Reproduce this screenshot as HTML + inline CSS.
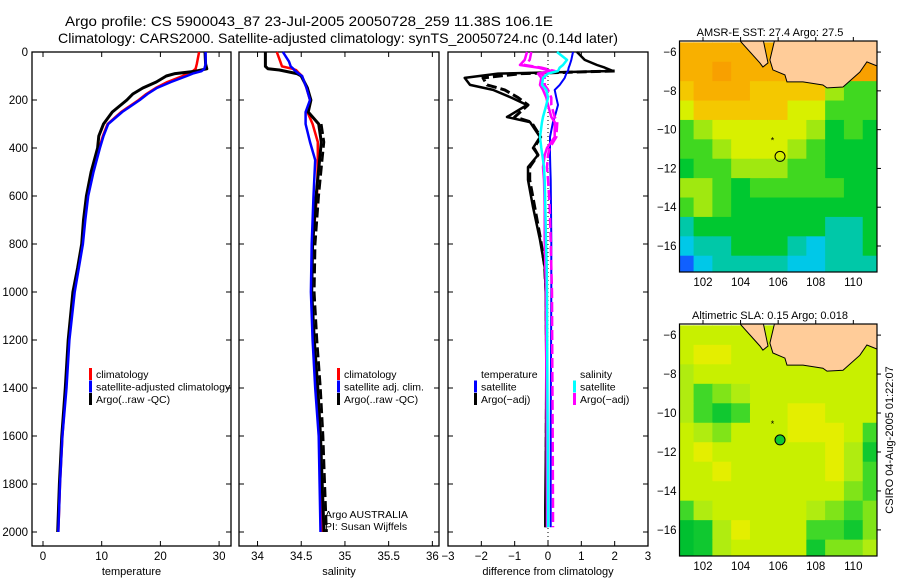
<!DOCTYPE html>
<html><head><meta charset="utf-8"><style>
html,body{margin:0;padding:0;background:#fff;}
svg{display:block;font-family:"Liberation Sans",sans-serif;}
text{fill:#000;}
</style></head><body>
<svg id="fig" width="900" height="580" viewBox="0 0 900 580">
<text x="65" y="26" font-size="14" textLength="488" lengthAdjust="spacingAndGlyphs">Argo profile: CS 5900043_87 23-Jul-2005 20050728_259 11.38S 106.1E</text>
<text x="58" y="43" font-size="14" textLength="560" lengthAdjust="spacingAndGlyphs">Climatology: CARS2000. Satellite-adjusted climatology: synTS_20050724.nc (0.14d later)</text>
<text x="770" y="36" font-size="11" text-anchor="middle">AMSR-E SST: 27.4 Argo: 27.5</text>
<text x="770" y="319" font-size="11" text-anchor="middle">Altimetric SLA: 0.15 Argo: 0.018</text>
<text transform="translate(893,440) rotate(-90)" font-size="11" text-anchor="middle">CSIRO 04-Aug-2005 01:22:07</text>
</svg>
<script>
// ---- profile data ----
const depthT = [0,50,70,80,90,100,125,150,175,200,250,300,350,400,500,600,700,800,900,1000,1200,1400,1600,1800,2000];
const tempClim = [26.6,26.2,26.0,25.5,24.5,23.8,21.2,19.2,17.6,16.3,13.3,11.0,10.2,9.6,8.5,7.6,7.1,6.7,6.0,5.3,4.4,3.9,3.3,2.9,2.6];
const tempSat  = [27.7,27.7,27.5,27.0,25.5,24.5,21.8,19.4,17.8,16.5,13.5,11.1,10.3,9.7,8.6,7.7,7.2,6.8,6.1,5.4,4.5,4.0,3.3,2.9,2.6];
const tempArgo = [27.6,27.7,27.9,26.0,22.5,21.0,19.3,17.0,15.3,14.3,11.8,10.3,9.5,9.3,8.2,7.4,6.9,6.6,5.9,5.1,4.3,3.8,3.2,2.8,2.5];

const depthS = [0,40,60,70,75,90,100,150,200,250,300,375,450,600,800,1000,1200,1400,1600,1800,2000];
const salClim = [34.22,34.26,34.28,34.40,34.44,34.48,34.51,34.56,34.60,34.57,34.63,34.69,34.69,34.68,34.63,34.62,34.64,34.67,34.71,34.72,34.73];
const salSat  = [34.29,34.36,34.38,34.41,34.42,34.47,34.51,34.56,34.60,34.55,34.55,34.60,34.66,34.64,34.62,34.61,34.63,34.66,34.70,34.71,34.72];
const salArgo = [34.09,34.09,34.09,34.12,34.25,34.45,34.50,34.57,34.61,34.58,34.70,34.73,34.71,34.67,34.63,34.62,34.65,34.69,34.72,34.74,34.76];

const depthD = [0,33,54,65,79,90,108,137,158,190,221,271,292,354,400,429,479,533,646,783,896,1000,1300,1600,1900,1980];
const dTempArgo = [0.87,1.1,1.47,1.7,1.95,-1.5,-2.5,-2.34,-1.65,-1.1,-0.63,-1.23,-0.54,-0.24,-0.45,-0.3,-0.6,-0.6,-0.45,-0.24,-0.1,-0.07,-0.05,-0.06,-0.08,-0.08];
const dTempAdj  = [null,null,null,null,2.0,-0.8,-1.95,-1.83,-1.3,-0.9,-0.6,-1.0,-0.5,-0.22,-0.42,-0.3,-0.55,-0.55,-0.4,-0.22,-0.1,-0.06,-0.04,-0.05,-0.06,-0.06];
const dTempSat  = [0.75,0.7,0.65,0.62,0.6,0.55,0.5,0.35,0.2,0.25,0.3,0.2,0.15,0.06,0.06,0.06,0.07,0.08,0.09,0.1,0.1,0.1,0.09,0.08,0.08,0.08];
const dSalSat   = [0.27,0.57,0.45,0.35,0.3,0.0,-0.15,-0.18,-0.05,0.0,-0.05,-0.15,-0.18,-0.24,-0.2,-0.17,-0.12,-0.1,-0.08,-0.06,-0.04,-0.03,-0.02,-0.01,0.0,0.0];
const dSalArgo  = [-0.63,-0.7,-0.84,-0.3,0.1,-0.3,-0.2,-0.24,-0.15,-0.05,0.0,0.1,0.2,0.2,-0.03,-0.1,-0.15,-0.12,-0.1,-0.1,-0.08,-0.06,-0.05,-0.04,-0.03,-0.03];
const dSalAdj   = [-0.5,-0.55,-0.7,-0.2,0.2,-0.2,-0.1,-0.1,0.0,0.1,0.1,0.2,0.28,0.25,0.05,0.0,-0.03,0.0,0.05,0.08,0.1,0.12,0.13,0.14,0.15,0.15];

const depthTicks = [0,200,400,600,800,1000,1200,1400,1600,1800,2000];
const tempTicks = [0,10,20,30];
const salTicks = [34,34.5,35,35.5,36];
const diffTicks = [-3,-2,-1,0,1,2,3];

// ---- map data (rows lat -6..-17, cols lon 101..111) ----
const mapLons = [101,102,103,104,105,106,107,108,109,110,111];
const mapLats = [-6,-7,-8,-9,-10,-11,-12,-13,-14,-15,-16,-17];
const sstGrid = [
[8,8,8,8,8,8,8,9,9,9,9],
[8,8,9,8,8,8,8,8,9,9,9],
[7,8,8,8,7,7,7,7,5,4,4],
[6,7,7,7,7,7,6,6,4,4,4],
[4,5,6,6,6,6,6,5,3,4,3],
[4,4,5,6,6,6,5,4,3,3,3],
[3,4,4,5,5,5,4,4,3,3,3],
[5,5,4,3,4,4,4,4,4,3,3],
[4,5,4,3,3,3,3,3,3,3,3],
[2,3,3,3,3,3,3,3,2,2,3],
[1,2,2,3,3,3,2,1,2,2,3],
[0,1,2,2,2,2,1,1,2,2,2]];
const slaGrid = [
[7,7,7,7,7,7,7,7,7,7,7],
[7,8,8,7,7,7,7,7,7,7,7],
[6,7,7,7,7,7,7,7,7,7,7],
[6,4,5,6,7,7,7,7,7,7,7],
[6,4,3,4,7,7,8,8,7,7,7],
[7,6,5,7,7,7,8,8,8,7,4],
[7,8,7,7,7,7,7,7,8,6,3],
[7,7,8,7,7,7,7,7,8,6,4],
[7,7,7,7,7,7,7,7,7,5,4],
[4,6,7,7,7,7,7,6,5,4,5],
[2,3,6,8,7,7,7,4,4,3,5],
[2,3,6,7,7,7,7,3,5,5,6]];
const mapLonTicks = [102,104,106,108,110];
const mapLatTicks = [-6,-8,-10,-12,-14,-16];
const javaLon = [105.83,105.56,105.72,106.36,106.47,107.32,108.38,108.60,109.45,110.35,110.72,111.4,111.4];
const javaLat = [-5.3,-6.41,-6.92,-7.18,-7.54,-7.54,-7.70,-7.85,-7.80,-7.03,-6.51,-6.77,-5.3];
const sumLon = [103.86,105.03,105.19,105.46,105.19];
const sumLat = [-5.3,-6.56,-6.77,-6.56,-5.3];
const floatLon = 106.1, floatLat = -11.38;

const sstPal = ['#1060ff','#00c8e8','#00c8a8','#00c830','#40d820','#a0e810','#d8f000','#f4c800','#f8b000','#f8a000','#f09000'];
const slaPal = ['#00b830','#00bc30','#00c030','#10c830','#40d828','#80e418','#b0ec10','#c8f000','#e4ee00','#f0d800','#f0c000'];

const NS='http://www.w3.org/2000/svg';
const svg=document.getElementById('fig');
function mk(tag,attrs,parent){const e=document.createElementNS(NS,tag);for(const k in attrs)e.setAttribute(k,attrs[k]);(parent||svg).appendChild(e);return e;}

const PT=52, PB=546, dScale=0.24;
const yD=d=>PT+d*dScale;
function lin(d0,d1,p0,p1){return v=>p0+(v-d0)*(p1-p0)/(d1-d0);}

const panels=[
 {name:'temperature',x0:32,x1:231,dom:[-1.874,32.03],ticks:tempTicks,label:'temperature',ylab:true},
 {name:'salinity',x0:239,x1:439,dom:[33.788,36.076],ticks:salTicks,label:'salinity',ylab:false},
 {name:'difference',x0:448,x1:648,dom:[-3,3],ticks:diffTicks,label:'difference from climatology',ylab:false}
];
panels.forEach(p=>{p.xs=lin(p.dom[0],p.dom[1],p.x0,p.x1);});

function line(p,depths,vals,color,w,dash,name){
  const pts=[];
  for(let i=0;i<depths.length;i++){if(vals[i]===null)continue;pts.push(p.xs(vals[i]).toFixed(1)+','+yD(depths[i]).toFixed(1));}
  const e=mk('polyline',{points:pts.join(' '),fill:'none',stroke:color,'stroke-width':w,'stroke-linejoin':'round'});
  if(dash)e.setAttribute('stroke-dasharray',dash);
  
  
  return e;
}

panels.forEach((p,pi)=>{
  const g=mk('g',{});
  
  
  const r=mk('rect',{x:p.x0,y:PT,width:p.x1-p.x0,height:PB-PT,fill:'none',stroke:'#000','stroke-width':1.3},g);
  
  
  depthTicks.forEach(d=>{
    const y=yD(d);
    const t1=mk('line',{x1:p.x0,x2:p.x0+5,y1:y,y2:y,stroke:'#000'},g);
    
    
    const t2=mk('line',{x1:p.x1-5,x2:p.x1,y1:y,y2:y,stroke:'#000'},g);
    
    
    if(p.ylab){
      const tx=mk('text',{x:p.x0-4,y:y+4,'font-size':11.5,'text-anchor':'end'},g);
      tx.textContent=d;
      
      
    }
  });
  p.ticks.forEach(v=>{
    const x=p.xs(v);
    const a=mk('line',{x1:x,x2:x,y1:PB,y2:PB-5,stroke:'#000'},g);
    
    
    const b=mk('line',{x1:x,x2:x,y1:PT,y2:PT+5,stroke:'#000'},g);
    
    
    const tx=mk('text',{x:x,y:PB+14,'font-size':11.5,'text-anchor':'middle'},g);
    tx.textContent=(v<0?'\u2212'+(-v):v);
    
    
  });
  const xl=mk('text',{x:(p.x0+p.x1)/2,y:PB+29,'font-size':11,'text-anchor':'middle'},g);
  xl.textContent=p.label;
  
  
});

const [P1,P2,P3]=panels;
line(P1,depthT,tempClim,'#ff0000',2.5,null,'temperature-climatology-line');
line(P1,depthT,tempArgo,'#000',3,null,'temperature-argo-line');
line(P1,depthT,tempSat,'#0000ff',2.5,null,'temperature-satellite-line');

line(P2,depthS,salClim,'#ff0000',2.5,null,'salinity-climatology-line');
line(P2,depthS,salArgo,'#000',3,null,'salinity-argo-line');
line(P2,depthS.slice(10),salArgo.slice(10).map(v=>v+0.03),'#000',2.5,'10,4','salinity-argo-qc-line');
line(P2,depthS,salSat,'#0000ff',2.5,null,'salinity-satellite-line');

const z=mk('line',{x1:P3.xs(0),x2:P3.xs(0),y1:PT,y2:PB,stroke:'#000','stroke-dasharray':'1,3'});


line(P3,depthD,dTempArgo,'#000',2.5,null,'temp-diff-argo-line');
line(P3,depthD,dTempAdj,'#000',3,'10,4','temp-diff-argo-adj-line');
line(P3,depthD,dTempSat,'#0000ff',2,null,'temp-diff-satellite-line');
line(P3,depthD,dSalArgo,'#ff00ff',2.5,null,'sal-diff-argo-line');
line(P3,depthD,dSalAdj,'#ff00ff',2.5,'10,4','sal-diff-argo-adj-line');
line(P3,depthD,dSalSat,'#00ffff',2.5,null,'sal-diff-satellite-line');

// legends
function legend(x,y,items,name){
  const g=mk('g',{});
  
  
  items.forEach((it,i)=>{
    const yy=y+i*12.5;
    if(it[1]){const b=mk('rect',{x:x,y:yy-8,width:3,height:12,fill:it[1]},g);
      
      }
    const t=mk('text',{x:x+7,y:yy+2,'font-size':10.5},g);
    t.textContent=it[0];
    
    
  });
}
legend(89,376,[['climatology','#ff0000'],['satellite-adjusted climatology','#0000ff'],['Argo(..raw -QC)','#000']],'temperature-legend');
legend(337,376,[['climatology','#ff0000'],['satellite adj. clim.','#0000ff'],['Argo(..raw -QC)','#000']],'salinity-legend');
legend(474,376,[['temperature',null],['satellite','#0000ff'],['Argo(\u2212adj)','#000']],'temp-diff-legend');
legend(573,376,[['salinity',null],['satellite','#00ffff'],['Argo(\u2212adj)','#ff00ff']],'sal-diff-legend');
const a1=mk('text',{x:325,y:518,'font-size':10.5});a1.textContent='Argo AUSTRALIA';


const a2=mk('text',{x:325,y:530,'font-size':10.5});a2.textContent='PI: Susan Wijffels';



// maps
const MX0=679.5,MX1=877,LON0=100.75,LON1=111.26,LAT0=-5.43,LAT1=-17.34;
function drawMap(y0,y1,grid,pal,name,filled,idx){
  const xs=lin(LON0,LON1,MX0,MX1), ys=lin(LAT0,LAT1,y0,y1);
  const cp=mk('clipPath',{id:'clip'+idx});
  mk('rect',{x:MX0,y:y0,width:MX1-MX0,height:y1-y0},cp);
  const g=mk('g',{'clip-path':'url(#clip'+idx+')'});
  
  
  for(let r=0;r<mapLats.length;r++)for(let c=0;c<mapLons.length;c++){
    const xa=xs(mapLons[c]-0.5),xb=xs(mapLons[c]+0.5),ya=ys(mapLats[r]+0.5),yb=ys(mapLats[r]-0.5);
    const cell=mk('rect',{x:xa,y:ya,width:xb-xa+0.6,height:yb-ya+0.6,fill:pal[grid[r][c]]},g);
    
    
  }
  const jp=javaLon.map((v,i)=>xs(v).toFixed(1)+','+ys(javaLat[i]).toFixed(1)).join(' ');
  const land1=mk('polygon',{points:jp,fill:'#ffcc99',stroke:'#000','stroke-width':1},g);
  
  
  const sp=sumLon.map((v,i)=>xs(v).toFixed(1)+','+ys(sumLat[i]).toFixed(1)).join(' ');
  const land2=mk('polygon',{points:sp,fill:'#ffcc99',stroke:'#000','stroke-width':1},g);
  
  
  const st=mk('text',{x:xs(105.7),y:ys(-10.5)+4,'font-size':9,'text-anchor':'middle'},g);
  st.textContent='*';
  
  
  const ci=mk('circle',{cx:xs(floatLon),cy:ys(floatLat),r:5,fill:filled?'#10c830':'none',stroke:'#000','stroke-width':1});
  
  
  const fr=mk('rect',{x:MX0,y:y0,width:MX1-MX0,height:y1-y0,fill:'none',stroke:'#000','stroke-width':1.2});
  
  
  mapLonTicks.forEach(v=>{
    const x=xs(v);
    const t=mk('line',{x1:x,x2:x,y1:y0,y2:y0-4,stroke:'#000'});
    
    
    const tx=mk('text',{x:x,y:y1+14,'font-size':11.5,'text-anchor':'middle'});
    tx.textContent=v;
    
    
  });
  mapLatTicks.forEach(v=>{
    const y=ys(v);
    const t=mk('line',{x1:MX1,x2:MX1+4,y1:y,y2:y,stroke:'#000'});
    
    
    const tx=mk('text',{x:MX0-3,y:y+4,'font-size':11.5,'text-anchor':'end'});
    tx.textContent='\u2212'+(-v);
    
    
  });
}
drawMap(41,272,sstGrid,sstPal,'sst-map',false,1);
drawMap(324,556,slaGrid,slaPal,'sla-map',true,2);
</script>
</body></html>
